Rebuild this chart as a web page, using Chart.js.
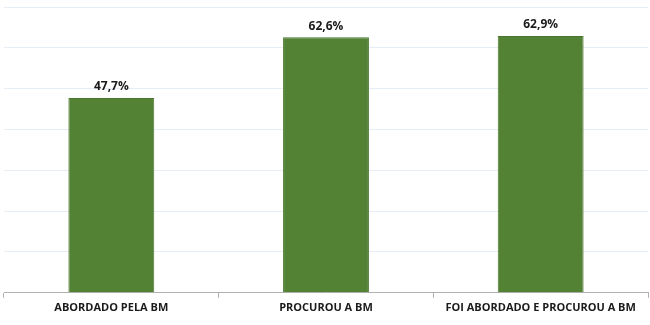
<!DOCTYPE html>
<html lang="pt">

<head>
  <meta charset="UTF-8">
  <title>Chart</title>
  <script src="https://cdn.jsdelivr.net/npm/chart.js@4.4.0/dist/chart.umd.min.js"></script>
  <style>
    * {
      box-sizing: border-box;
      margin: 0;
      padding: 0;
    }

    body {
      background: #fff;
    }

    #wrap {
      width: 650px;
      height: 325px;
    }
  </style>
</head>

<body>
  <div id="wrap"><canvas id="myChart"></canvas></div>

  <script>
    const categories = ['ABORDADO PELA BM', 'PROCUROU A BM', 'FOI ABORDADO E PROCUROU A BM'];
    const values = [47.7, 62.6, 62.9];
    const valueLabels = ['47,7%', '62,6%', '62,9%'];

    // draws the value above each bar
    const barLabels = {
      id: 'barLabels',
      afterDatasetsDraw(chart) {
        const ctx = chart.ctx;
        const meta = chart.getDatasetMeta(0);
        ctx.save();
        ctx.font = 'bold 12px "Open Sans", sans-serif';
        ctx.fillStyle = '#1a1a1a';
        ctx.textAlign = 'center';
        ctx.textBaseline = 'bottom';
        meta.data.forEach((bar, i) => {
          ctx.fillText(valueLabels[i], bar.x, bar.y - 5);
        });
        ctx.restore();
      }
    };

    new Chart(document.getElementById('myChart'), {
      type: 'bar',
      data: {
        labels: categories,
        datasets: [{
          data: values,
          backgroundColor: '#548235',
          borderColor: '#4a7530',
          borderWidth: 1,
          barPercentage: 0.4,
          categoryPercentage: 1
        }]
      },
      options: {
        responsive: true,
        maintainAspectRatio: false,
        animation: false,
        layout: { padding: { top: 7, left: 4, right: 2, bottom: 8 } },
        plugins: {
          legend: { display: false },
          tooltip: { enabled: false }
        },
        scales: {
          x: {
            grid: {
              offset: true,
              drawOnChartArea: false,
              color: '#b0b0b0',
              tickLength: 5
            },
            border: { color: '#b0b0b0' },
            ticks: {
              color: '#1a1a1a',
              font: { family: '"Open Sans", sans-serif', size: 11, weight: 'bold' },
              padding: 3,
              maxRotation: 0
            }
          },
          y: {
            min: 0,
            max: 70,
            ticks: { display: false, stepSize: 10 },
            border: { display: false },
            grid: { color: '#e6edf5', drawTicks: false }
          }
        }
      },
      plugins: [barLabels]
    });
  </script>
</body>

</html>
